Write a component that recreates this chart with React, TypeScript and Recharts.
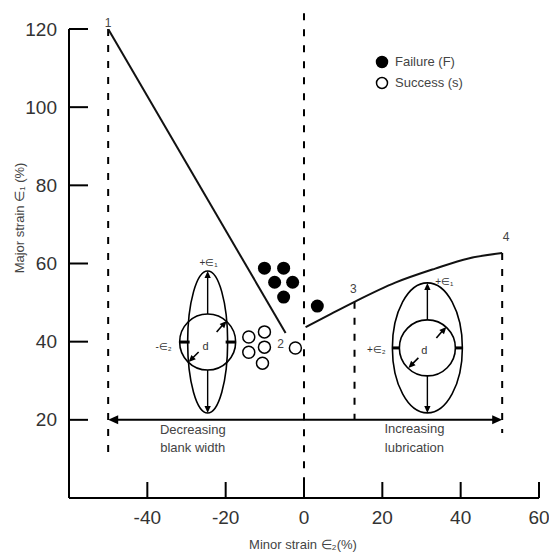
import React from "react";
import {
  ComposedChart,
  XAxis,
  YAxis,
  Line,
  Scatter,
  ReferenceLine,
  ReferenceDot,
} from "recharts";

const FONT = '"Liberation Sans", Arial, sans-serif';

// axis ticks
const xTicks = [-40, -20, 0, 20, 40, 60];
const yTicks = [20, 40, 60, 80, 100, 120];

// forming limit line, points 1 -> 2
const leftLimitX = [-50, -4.7];
const leftLimitY = [120, 42.2];

// forming limit curve, points 3 side -> 4
const rightLimitX = [0.4, 6.3, 12.9, 23.3, 33.5, 42, 50.6];
const rightLimitY = [43.7, 46.8, 50.2, 55.1, 58.7, 61.3, 62.7];

// experiments
const failureX = [-10.1, -5.2, -7.5, -2.9, -5.2, 3.4];
const failureY = [58.8, 58.8, 55.2, 55.2, 51.4, 49.1];
const successX = [-14.1, -10.1, -14.1, -10.1, -10.6, -2.2];
const successY = [41.2, 42.5, 37.3, 38.6, 34.5, 38.4];

const toPts = (xs: number[], ys: number[]) =>
  xs.map((x, i) => ({ x, y: ys[i] }));

const leftLimit = toPts(leftLimitX, leftLimitY);
const rightLimit = toPts(rightLimitX, rightLimitY);
const failures = toPts(failureX, failureY);
const successes = toPts(successX, successY);

// dashed guide lines: x, top, bottom
const guideX = [-50, 0, 12.9, 50.6];
const guideTop = [120, 124, 50.2, 62.7];
const guideBottom = [11.5, 2, 20, 16.6];

// annotation texts
const labelText = ["1", "2", "3", "4", "Decreasing", "blank width", "Increasing", "lubrication"];
const labelX = [-50, -6, 12.6, 51.6, -28.4, -28.4, 28.2, 28.2];
const labelY = [121.7, 39.6, 53.7, 66.8, 17.6, 12.8, 17.9, 13.0];

function arrowHead(tx: number, ty: number, dx: number, dy: number, size = 7) {
  const len = Math.hypot(dx, dy);
  const ux = dx / len;
  const uy = dy / len;
  const bx = tx - ux * size;
  const by = ty - uy * size;
  const w = size * 0.45;
  return (
    <polygon
      points={`${tx},${ty} ${bx - uy * w},${by + ux * w} ${bx + uy * w},${by - ux * w}`}
      fill="#000"
    />
  );
}

const strainText = { fontFamily: FONT, fontSize: 10, fill: "#333" };

function DiagramLeft({ cx, cy }: any) {
  const r = 28;
  const ry = 71;
  return (
    <g stroke="#000" fill="none">
      <ellipse cx={cx} cy={cy} rx={20} ry={ry} strokeWidth={1.6} />
      <circle cx={cx} cy={cy} r={r} strokeWidth={1.6} />
      <line x1={cx} y1={cy - r} x2={cx} y2={cy - ry + 4} strokeWidth={1.4} />
      <line x1={cx} y1={cy + r} x2={cx} y2={cy + ry - 4} strokeWidth={1.4} />
      <line x1={cx - r} y1={cy} x2={cx - 18} y2={cy} strokeWidth={3} />
      <line x1={cx + r} y1={cy} x2={cx + 18} y2={cy} strokeWidth={3} />
      <line x1={cx + 9} y1={cy - 10} x2={cx + 15} y2={cy - 17} strokeWidth={1.6} />
      <line x1={cx - 9} y1={cy + 10} x2={cx - 15} y2={cy + 16} strokeWidth={1.6} />
      <g stroke="none">
        {arrowHead(cx, cy - ry, 0, -1)}
        {arrowHead(cx, cy + ry, 0, 1)}
        {arrowHead(cx + 19, cy - 21, 1, -1.1)}
        {arrowHead(cx - 19, cy + 20, -1, 1)}
        <text x={cx - 2} y={cy + 8} textAnchor="middle" {...strainText} fontSize={11}>d</text>
        <text x={cx - 44} y={cy + 8} textAnchor="middle" {...strainText}>-∈₂</text>
        <text x={cx + 1} y={cy - 76} textAnchor="middle" {...strainText}>+∈₁</text>
      </g>
    </g>
  );
}

function DiagramRight({ cx, cy }: any) {
  const r = 28;
  const rx = 35;
  const ry = 65;
  return (
    <g stroke="#000" fill="none">
      <ellipse cx={cx} cy={cy} rx={rx} ry={ry} strokeWidth={1.6} />
      <circle cx={cx} cy={cy} r={r} strokeWidth={1.6} />
      <line x1={cx} y1={cy - r} x2={cx} y2={cy - ry + 4} strokeWidth={1.4} />
      <line x1={cx} y1={cy + r} x2={cx} y2={cy + ry - 4} strokeWidth={1.4} />
      <line x1={cx - r} y1={cy} x2={cx - rx} y2={cy} strokeWidth={3} />
      <line x1={cx + r} y1={cy} x2={cx + rx} y2={cy} strokeWidth={3} />
      <line x1={cx + 9} y1={cy - 10} x2={cx + 15} y2={cy - 17} strokeWidth={1.6} />
      <line x1={cx - 9} y1={cy + 10} x2={cx - 15} y2={cy + 16} strokeWidth={1.6} />
      <g stroke="none">
        {arrowHead(cx, cy - ry, 0, -1)}
        {arrowHead(cx, cy + ry, 0, 1)}
        {arrowHead(cx + 19, cy - 21, 1, -1.1)}
        {arrowHead(cx - 19, cy + 20, -1, 1)}
        <text x={cx - 3} y={cy + 6} textAnchor="middle" {...strainText} fontSize={11}>d</text>
        <text x={cx - 51} y={cy + 5} textAnchor="middle" {...strainText}>+∈₂</text>
        <text x={cx + 17} y={cy - 63} textAnchor="middle" {...strainText}>+∈₁</text>
      </g>
    </g>
  );
}

const YTick = ({ x, y, payload }: any) => (
  <g>
    <line x1={x} y1={y} x2={x + 19} y2={y} stroke="#000" strokeWidth={2} />
    <text x={x - 12} y={y} dy={6.5} textAnchor="end" fontSize={19} fontFamily={FONT} fill="#333">
      {payload.value}
    </text>
  </g>
);

const XTick = ({ x, y, payload }: any) => (
  <g>
    <line x1={x} y1={y} x2={x} y2={y - 16} stroke="#000" strokeWidth={2} />
    <text x={x} y={y + 26} textAnchor="middle" fontSize={19} fontFamily={FONT} fill="#333">
      {payload.value}
    </text>
  </g>
);

const YTitle = () => (
  <text
    transform="translate(24,218) rotate(-90)"
    textAnchor="middle"
    fontSize={13}
    fontFamily={FONT}
    fill="#444"
  >
    Major strain ∈₁ (%)
  </text>
);

const XTitle = () => (
  <text x={303} y={549} textAnchor="middle" fontSize={13} fontFamily={FONT} fill="#444">
    Minor strain ∈₂(%)
  </text>
);

const DoubleArrow = ({ x1, y1, x2, y2 }: any) => (
  <g>
    <line x1={x1 + 6} y1={y1} x2={x2 - 6} y2={y2} stroke="#000" strokeWidth={2} />
    {arrowHead(x1, y1, -1, 0, 10)}
    {arrowHead(x2, y2, 1, 0, 10)}
  </g>
);

const legendItems = [
  { name: "Failure (F)", fill: "#000" },
  { name: "Success (s)", fill: "#fff" },
];

export default function App() {
  return (
    <div style={{ position: "relative", width: 549, height: 552 }}>
      <style>{"body{margin:0}"}</style>
      <ComposedChart
        width={549}
        height={552}
        margin={{ top: 29, right: 10, bottom: 0, left: 0 }}
      >
        <XAxis
          type="number"
          dataKey="x"
          domain={[-60, 60]}
          ticks={xTicks}
          allowDataOverflow
          height={54}
          tickSize={0}
          tickMargin={0}
          tickLine={false}
          axisLine={{ stroke: "#000", strokeWidth: 2 }}
          tick={<XTick />}
          label={<XTitle />}
        />
        <YAxis
          type="number"
          dataKey="y"
          domain={[0, 120]}
          ticks={yTicks}
          allowDataOverflow
          width={69}
          tickSize={0}
          tickMargin={0}
          tickLine={false}
          axisLine={{ stroke: "#000", strokeWidth: 2 }}
          tick={<YTick />}
          label={<YTitle />}
        />
        {guideX.map((gx, i) => (
          <ReferenceLine
            key={`g-${i}`}
            segment={[
              { x: gx, y: guideTop[i] },
              { x: gx, y: guideBottom[i] },
            ]}
            stroke="#000"
            strokeWidth={2}
            strokeDasharray="7 9"
            ifOverflow="visible"
          />
        ))}
        <ReferenceLine
          segment={[
            { x: guideX[0], y: 20 },
            { x: guideX[3], y: 20 },
          ]}
          shape={<DoubleArrow />}
          ifOverflow="visible"
        />
        <Line
          data={leftLimit}
          dataKey="y"
          type="linear"
          stroke="#111"
          strokeWidth={2}
          dot={false}
          isAnimationActive={false}
        />
        <Line
          data={rightLimit}
          dataKey="y"
          type="monotone"
          stroke="#111"
          strokeWidth={2}
          dot={false}
          isAnimationActive={false}
        />
        <Scatter
          data={failures}
          dataKey="y"
          isAnimationActive={false}
          shape={(p: any) => <circle cx={p.cx} cy={p.cy} r={6.5} fill="#000" />}
        />
        <Scatter
          data={successes}
          dataKey="y"
          isAnimationActive={false}
          shape={(p: any) => (
            <circle cx={p.cx} cy={p.cy} r={6} fill="#fff" stroke="#000" strokeWidth={1.5} />
          )}
        />
        <ReferenceDot x={-24.6} y={39.9} r={1} shape={<DiagramLeft />} ifOverflow="visible" />
        <ReferenceDot x={31.5} y={38.4} r={1} shape={<DiagramRight />} ifOverflow="visible" />
        {labelText.map((t, i) => (
          <ReferenceDot
            key={`l-${i}`}
            x={labelX[i]}
            y={labelY[i]}
            r={1}
            ifOverflow="visible"
            shape={(p: any) => (
              <text
                x={p.cx}
                y={p.cy}
                dy={4.5}
                textAnchor="middle"
                fontSize={i < 4 ? 12 : 13}
                fontFamily={FONT}
                fill="#444"
              >
                {t}
              </text>
            )}
          />
        ))}
      </ComposedChart>
      <div
        style={{
          position: "absolute",
          left: 375,
          top: 51,
          fontFamily: FONT,
          fontSize: 13,
          color: "#444",
          lineHeight: "21px",
        }}
      >
        {legendItems.map((it) => (
          <div key={it.name} style={{ display: "flex", alignItems: "center", gap: 6 }}>
            <svg width={14} height={14}>
              <circle cx={7} cy={7} r={5.5} fill={it.fill} stroke="#000" strokeWidth={1.5} />
            </svg>
            <span>{it.name}</span>
          </div>
        ))}
      </div>
    </div>
  );
}
